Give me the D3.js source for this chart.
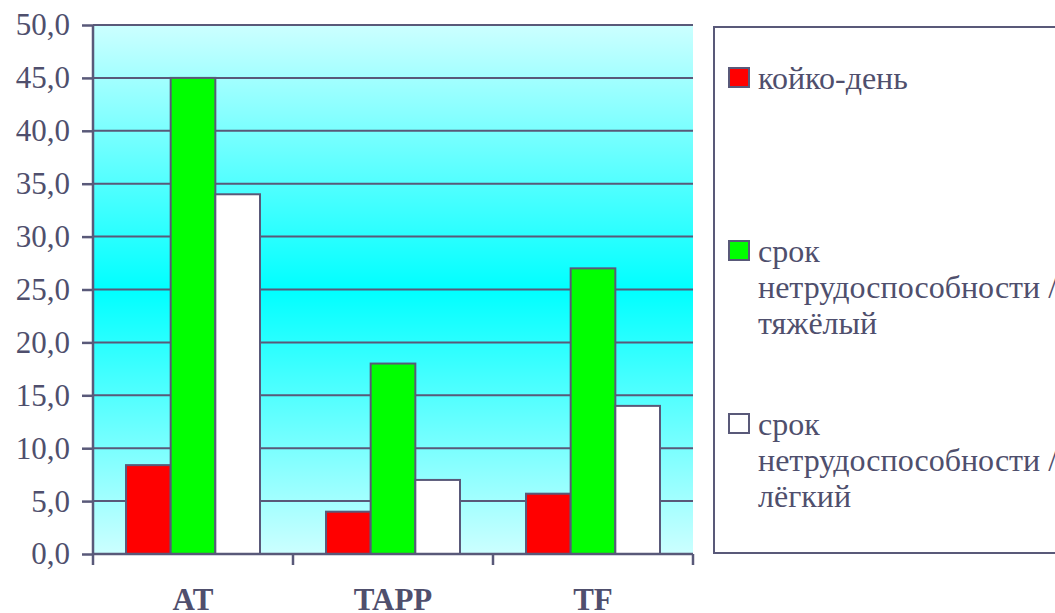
<!DOCTYPE html>
<html>
<head>
<meta charset="utf-8">
<script src="https://cdn.jsdelivr.net/npm/d3@7"></script>
<style>
  html, body { margin: 0; padding: 0; background: #ffffff; }
  svg { display: block; }
</style>
</head>
<body>
<svg id="chart" width="1055" height="613"></svg>
<script>
// ---- data ----
const categories = ["AT", "TAPP", "TF"];
const seriesNames = [
  "койко-день",
  "срок нетрудоспособности / тяжёлый",
  "срок нетрудоспособности / лёгкий"
];
const legendLines = [
  ["койко-день"],
  ["срок", "нетрудоспособности /", "тяжёлый"],
  ["срок", "нетрудоспособности /", "лёгкий"]
];
const bedDays = [8.4, 4.0, 5.7];
const disabilitySevere = [45.0, 18.0, 27.0];
const disabilityMild = [34.0, 7.0, 14.0];
const seriesValues = [bedDays, disabilitySevere, disabilityMild];
const seriesColors = ["#ff0000", "#00ff00", "#ffffff"];
const yTicks = [0, 5, 10, 15, 20, 25, 30, 35, 40, 45, 50];

// ---- layout ----
const svg = d3.select("#chart");
const plotLeft = 93, plotRight = 693, plotTop = 25, plotBottom = 554;
const lineColor = "#595979";
const textColor = "#4f4f6d";
const fontSize = 31;
const legendFontSize = 32;
const serif = "'Times New Roman', 'Liberation Serif', Tinos, serif";

const y = d3.scaleLinear().domain([0, 50]).range([plotBottom, plotTop]);
const x0 = d3.scaleBand().domain(categories).range([plotLeft, plotRight])
  .paddingInner(0.33).paddingOuter(0.165);
const x1 = d3.scaleBand().domain(d3.range(seriesNames.length))
  .range([0, x0.bandwidth()]);
const xAxisScale = d3.scaleBand().domain(categories).range([plotLeft, plotRight]);

// gradient background
const defs = svg.append("defs");
const grad = defs.append("linearGradient").attr("id", "bg")
  .attr("x1", 0).attr("y1", 0).attr("x2", 0).attr("y2", 1);
grad.append("stop").attr("offset", "0%").attr("stop-color", "#ccffff");
grad.append("stop").attr("offset", "50%").attr("stop-color", "#00ffff");
grad.append("stop").attr("offset", "100%").attr("stop-color", "#ccffff");

svg.append("rect")
  .attr("x", plotLeft).attr("y", plotTop)
  .attr("width", plotRight - plotLeft).attr("height", plotBottom - plotTop)
  .attr("fill", "url(#bg)");

// gridlines
svg.append("g").selectAll("line")
  .data(yTicks.filter(d => d > 0))
  .join("line")
  .attr("x1", plotLeft).attr("x2", plotRight)
  .attr("y1", d => y(d)).attr("y2", d => y(d))
  .attr("stroke", lineColor).attr("stroke-width", 2);

// bars
const groups = svg.append("g").selectAll("g")
  .data(categories)
  .join("g")
  .attr("transform", d => `translate(${x0(d)},0)`);

groups.selectAll("rect")
  .data((c, ci) => seriesValues.map((vals, si) => ({ si, v: vals[ci] })))
  .join("rect")
  .attr("x", d => x1(d.si))
  .attr("width", x1.bandwidth())
  .attr("y", d => y(d.v))
  .attr("height", d => y(0) - y(d.v))
  .attr("fill", d => seriesColors[d.si])
  .attr("stroke", lineColor)
  .attr("stroke-width", 2);

// y axis
const yAxis = d3.axisLeft(y).tickValues(yTicks)
  .tickFormat(d => d3.format(".1f")(d).replace(".", ","))
  .tickSize(11).tickPadding(12);
const gy = svg.append("g").attr("transform", `translate(${plotLeft},0)`).call(yAxis)
  .attr("font-family", serif).attr("font-size", fontSize);
gy.select(".domain").attr("stroke", lineColor).attr("stroke-width", 2.5)
  .attr("d", `M0,${plotBottom}V${plotTop}`);
gy.selectAll(".tick line").attr("stroke", lineColor).attr("stroke-width", 2.5);
gy.selectAll(".tick text").attr("fill", textColor)
  .style("font-size", fontSize + "px")
  .style("font-family", serif);

// x axis
const gx = svg.append("g").attr("transform", `translate(0,${plotBottom})`);
gx.append("line").attr("x1", plotLeft).attr("x2", plotRight)
  .attr("y1", 0).attr("y2", 0)
  .attr("stroke", lineColor).attr("stroke-width", 2.5);
const xTickPos = categories.map(c => xAxisScale(c)).concat([plotRight]);
gx.selectAll("line.tk").data(xTickPos).join("line").attr("class", "tk")
  .attr("x1", d => d).attr("x2", d => d)
  .attr("y1", 0).attr("y2", 11)
  .attr("stroke", lineColor).attr("stroke-width", 2.5);
gx.selectAll("text").data(categories).join("text")
  .attr("x", d => x0(d) + x0.bandwidth() / 2)
  .attr("y", 56)
  .attr("text-anchor", "middle")
  .attr("fill", textColor)
  .style("font-family", serif)
  .style("font-size", fontSize + "px")
  .style("font-weight", "bold")
  .text(d => d);

// legend
const lg = svg.append("g");
lg.append("rect")
  .attr("x", 714).attr("y", 27)
  .attr("width", 400).attr("height", 526)
  .attr("fill", "#ffffff")
  .attr("stroke", lineColor).attr("stroke-width", 2);

const items = lg.selectAll("g.item").data(seriesNames)
  .join("g").attr("class", "item")
  .attr("transform", (d, i) => `translate(729,${89 + i * 173})`);
items.append("rect")
  .attr("x", 0).attr("y", -21)
  .attr("width", 20).attr("height", 19)
  .attr("fill", (d, i) => seriesColors[i])
  .attr("stroke", lineColor).attr("stroke-width", 2);
items.each(function(d, i) {
  const t = d3.select(this).append("text")
    .attr("x", 29).attr("y", 0)
    .attr("fill", textColor)
    .style("font-family", serif)
    .style("font-size", legendFontSize + "px");
  legendLines[i].forEach((ln, k) => {
    t.append("tspan").attr("x", 29).attr("dy", k === 0 ? 0 : 36).text(ln);
  });
});
</script>
</body>
</html>
